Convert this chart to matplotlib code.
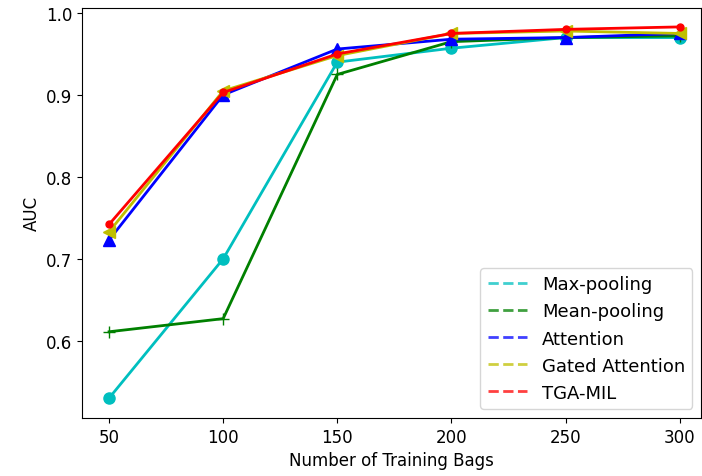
import matplotlib
matplotlib.use('Agg')
from matplotlib import pyplot as plt
from matplotlib.lines import Line2D

# 训练集大小
bags = [50, 100, 150, 200, 250, 300]

max_pool = [0.530, 0.700, 0.940, 0.957, 0.970, 0.970]
mean_pool = [0.611, 0.627, 0.925, 0.965, 0.970, 0.972]
attention = [0.723, 0.900, 0.956, 0.968, 0.970, 0.975]
gated = [0.733, 0.905, 0.948, 0.975, 0.978, 0.975]
tga_mil = [0.742, 0.903, 0.950, 0.975, 0.980, 0.983]

names = ['Max-pooling', 'Mean-pooling', 'Attention', 'Gated Attention', 'TGA-MIL']
colors = ['c', 'g', 'b', 'y', 'r']

fig = plt.figure(figsize=(7.02, 4.77), dpi=100)
ax = fig.add_axes([0.117, 0.122, 0.882, 0.859])

ax.plot(bags, max_pool, c='c', marker='o', markersize=8, linewidth=2)
ax.plot(bags, mean_pool, c='g', marker='+', markersize=9, linewidth=2)
ax.plot(bags, attention, c='b', marker='^', markersize=8, linewidth=2)
ax.plot(bags, gated, c='y', marker='<', markersize=8, linewidth=2)
ax.plot(bags, tga_mil, c='r', marker='.', markersize=10, linewidth=2)

# 图例用虚线
handles = [Line2D([0], [0], color=c, linestyle='--', linewidth=2, alpha=0.75) for c in colors]
ax.legend(handles, names, loc='lower right', fontsize=13, handlelength=2.2)

ax.set_xlim(38.2, 309.5)
ax.set_ylim(0.506, 1.006)
ax.set_xticks(bags)
ax.set_yticks([0.6, 0.7, 0.8, 0.9, 1.0])
ax.set_xlabel('Number of Training Bags', fontsize=12)
ax.set_ylabel('AUC', fontsize=12)
ax.tick_params(axis='both', labelsize=12)

fig.savefig('out.png', dpi=100)
